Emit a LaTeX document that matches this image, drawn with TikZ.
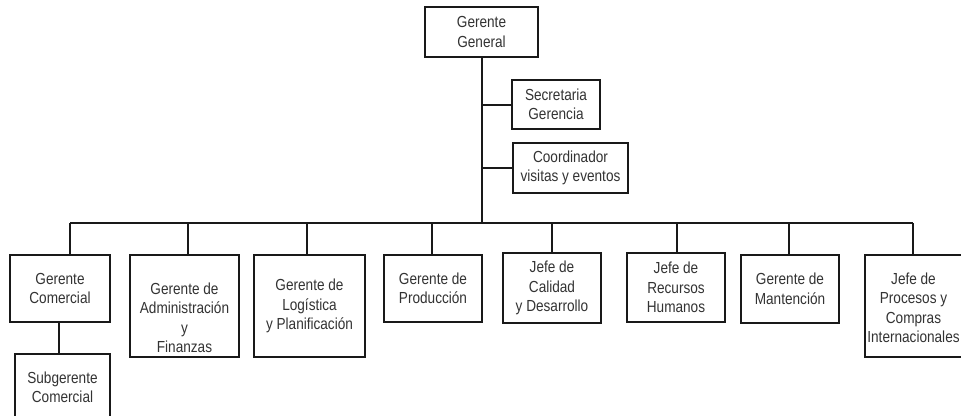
\documentclass[tikz,border=0pt]{standalone}
\usepackage{fontspec}
\setmainfont[FakeStretch=0.85]{Liberation Sans}
\begin{document}
\begin{tikzpicture}[x=1pt,y=-1pt,
  lbl/.style={align=center, text=black!80, font=\fontsize{16}{19.5}\selectfont},
  box/.style={lbl, draw=black!90, line width=2pt, fill=white, inner sep=0pt},
  link/.style={draw=black!90, line width=2pt}]
\useasboundingbox (0,0) rectangle (961,415);
\clip (0,0) rectangle (961,415);

% top of the chart
\node[box, minimum width=113pt, minimum height=50pt] (gg)  at (481.5,32)  {Gerente\\General};
\node[box, minimum width=88pt,  minimum height=49pt] (sec) at (556,104.5) {Secretaria\\Gerencia};
\node[box, minimum width=115pt, minimum height=50pt] (coo) at (570.5,168) {Coordinador\\visitas y eventos};

% second level
\node[box, minimum width=100pt, minimum height=67pt]  (com)  at (60,288.5)  {Gerente\\Comercial};
\node[box, minimum width=95pt,  minimum height=67pt]  (sub)  at (62.5,387.5) {Subgerente\\Comercial};
\node[box, minimum width=109pt, minimum height=102pt] (adm)  at (184.5,306) {};
\node[lbl] (admt) at (184.5,318) {Gerente de\\Administración\\y\\Finanzas};
\node[box, minimum width=111pt, minimum height=102pt] (log)  at (309.5,306) {Gerente de\\Logística\\y Planificación};
\node[box, minimum width=98pt,  minimum height=67pt]  (pro)  at (433,288.5)  {Gerente de\\Producción};
\node[box, minimum width=98pt,  minimum height=70pt]  (cal)  at (552,288)    {Jefe de\\Calidad\\y Desarrollo};
\node[box, minimum width=98pt,  minimum height=69pt]  (rrhh) at (676,287.5)  {Jefe de\\Recursos\\Humanos};
\node[box, minimum width=98pt,  minimum height=68pt]  (man)  at (790,289)    {Gerente de\\Mantención};
\node[box, minimum width=100pt, minimum height=102pt] (jpc)  at (915,306)    {};
\node[lbl] (jpct) at (913.5,308) {Jefe de\\Procesos y\\Compras\\Internacionales};

% trunk and bus
\coordinate (busL) at (70,223);
\coordinate (busR) at (913,223);
\coordinate (trunk) at (gg.south |- busL);
\draw[link] (gg.south) -- (trunk);
\draw[link] (busL) -- (busR);
\draw[link] (gg.south |- sec.west) -- (sec.west);
\draw[link] (gg.south |- coo.west) -- (coo.west);

% drops to each box
\foreach \n/\x in {com/70, adm/188, log/307, pro/432, cal/552, rrhh/677, man/789, jpc/913}
  \draw[link] (\x,223) -- (\x,0 |- \n.north);
\draw[link] (59,0 |- com.south) -- (59,0 |- sub.north);
\end{tikzpicture}
\end{document}
